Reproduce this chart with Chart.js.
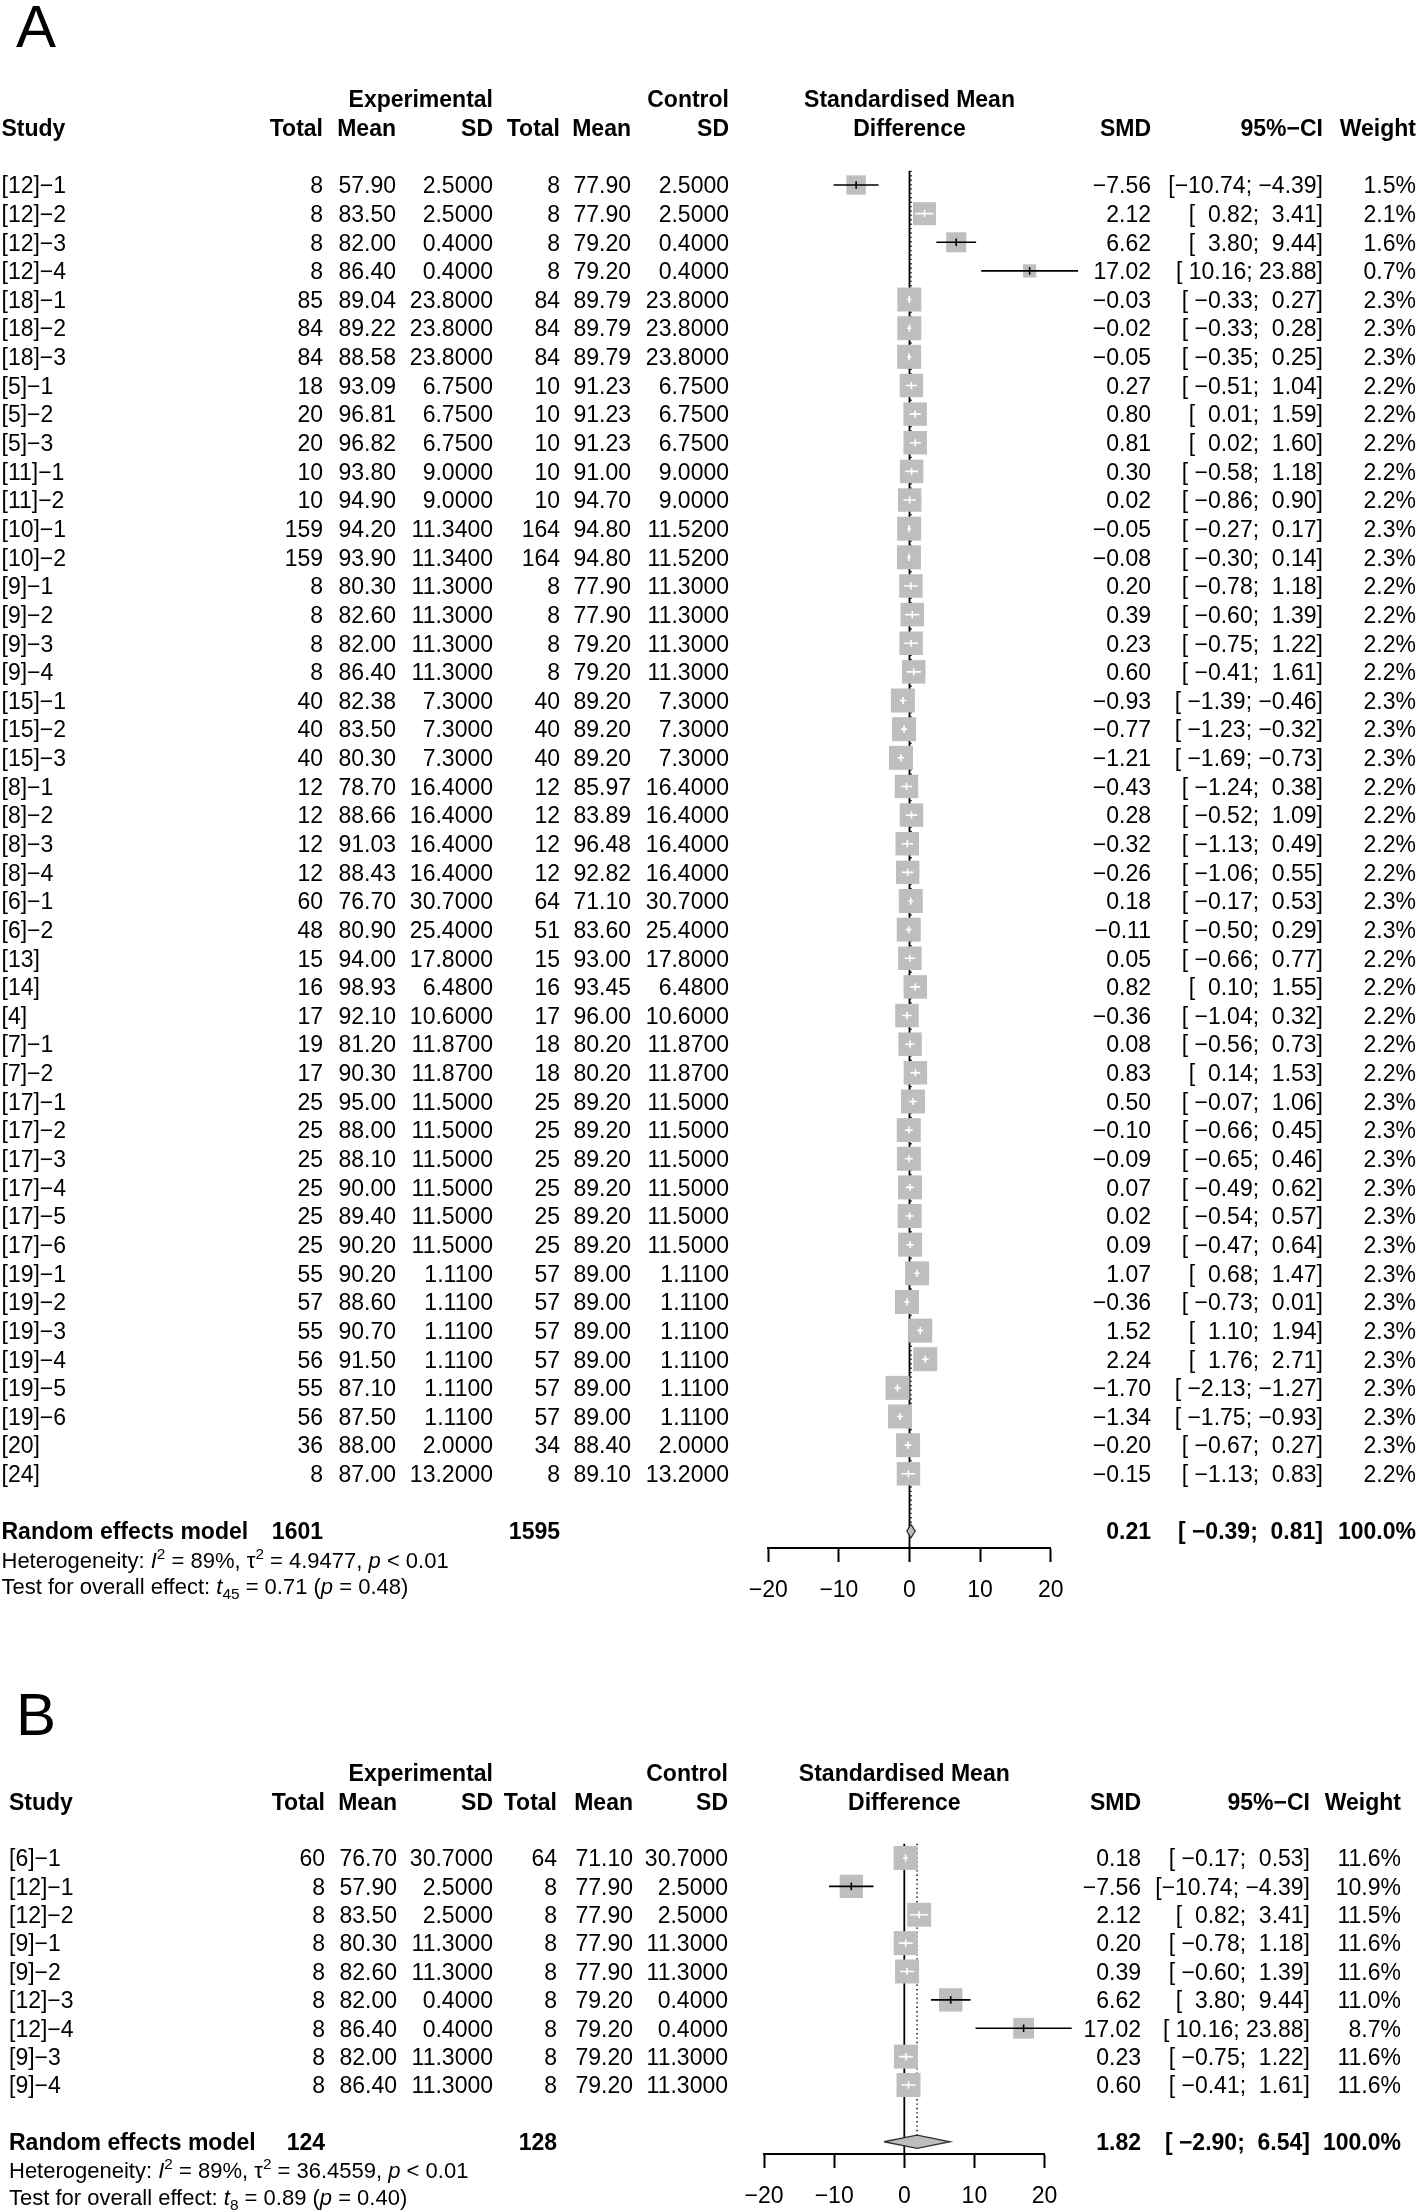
<!DOCTYPE html>
<html><head><meta charset="utf-8">
<script src="https://cdn.jsdelivr.net/npm/chart.js@4.4.0/dist/chart.umd.min.js"></script>
<style>
html,body{margin:0;padding:0;background:#fff;width:1418px;height:2210px;overflow:hidden;}
canvas{position:absolute;left:0;top:0;}
</style></head><body>
<canvas id="cA" width="1418" height="2210"></canvas>
<canvas id="cB" width="1418" height="2210"></canvas>
<script>
// ---------------- Panel A data ----------------
const studiesA = ['[12]-1','[12]-2','[12]-3','[12]-4','[18]-1','[18]-2','[18]-3','[5]-1','[5]-2','[5]-3','[11]-1','[11]-2','[10]-1','[10]-2','[9]-1','[9]-2','[9]-3','[9]-4','[15]-1','[15]-2','[15]-3','[8]-1','[8]-2','[8]-3','[8]-4','[6]-1','[6]-2','[13]','[14]','[4]','[7]-1','[7]-2','[17]-1','[17]-2','[17]-3','[17]-4','[17]-5','[17]-6','[19]-1','[19]-2','[19]-3','[19]-4','[19]-5','[19]-6','[20]','[24]'];
const nExpA = [8,8,8,8,85,84,84,18,20,20,10,10,159,159,8,8,8,8,40,40,40,12,12,12,12,60,48,15,16,17,19,17,25,25,25,25,25,25,55,57,55,56,55,56,36,8];
const meanExpA = [57.90,83.50,82.00,86.40,89.04,89.22,88.58,93.09,96.81,96.82,93.80,94.90,94.20,93.90,80.30,82.60,82.00,86.40,82.38,83.50,80.30,78.70,88.66,91.03,88.43,76.70,80.90,94.00,98.93,92.10,81.20,90.30,95.00,88.00,88.10,90.00,89.40,90.20,90.20,88.60,90.70,91.50,87.10,87.50,88.00,87.00];
const sdExpA = [2.5,2.5,0.4,0.4,23.8,23.8,23.8,6.75,6.75,6.75,9,9,11.34,11.34,11.3,11.3,11.3,11.3,7.3,7.3,7.3,16.4,16.4,16.4,16.4,30.7,25.4,17.8,6.48,10.6,11.87,11.87,11.5,11.5,11.5,11.5,11.5,11.5,1.11,1.11,1.11,1.11,1.11,1.11,2.0,13.2];
const nCtrlA = [8,8,8,8,84,84,84,10,10,10,10,10,164,164,8,8,8,8,40,40,40,12,12,12,12,64,51,15,16,17,18,18,25,25,25,25,25,25,57,57,57,57,57,57,34,8];
const meanCtrlA = [77.90,77.90,79.20,79.20,89.79,89.79,89.79,91.23,91.23,91.23,91.00,94.70,94.80,94.80,77.90,77.90,79.20,79.20,89.20,89.20,89.20,85.97,83.89,96.48,92.82,71.10,83.60,93.00,93.45,96.00,80.20,80.20,89.20,89.20,89.20,89.20,89.20,89.20,89.00,89.00,89.00,89.00,89.00,89.00,88.40,89.10];
const sdCtrlA = [2.5,2.5,0.4,0.4,23.8,23.8,23.8,6.75,6.75,6.75,9,9,11.52,11.52,11.3,11.3,11.3,11.3,7.3,7.3,7.3,16.4,16.4,16.4,16.4,30.7,25.4,17.8,6.48,10.6,11.87,11.87,11.5,11.5,11.5,11.5,11.5,11.5,1.11,1.11,1.11,1.11,1.11,1.11,2.0,13.2];
const smdA = [-7.56,2.12,6.62,17.02,-0.03,-0.02,-0.05,0.27,0.80,0.81,0.30,0.02,-0.05,-0.08,0.20,0.39,0.23,0.60,-0.93,-0.77,-1.21,-0.43,0.28,-0.32,-0.26,0.18,-0.11,0.05,0.82,-0.36,0.08,0.83,0.50,-0.10,-0.09,0.07,0.02,0.09,1.07,-0.36,1.52,2.24,-1.70,-1.34,-0.20,-0.15];
const lowerA = [-10.74,0.82,3.80,10.16,-0.33,-0.33,-0.35,-0.51,0.01,0.02,-0.58,-0.86,-0.27,-0.30,-0.78,-0.60,-0.75,-0.41,-1.39,-1.23,-1.69,-1.24,-0.52,-1.13,-1.06,-0.17,-0.50,-0.66,0.10,-1.04,-0.56,0.14,-0.07,-0.66,-0.65,-0.49,-0.54,-0.47,0.68,-0.73,1.10,1.76,-2.13,-1.75,-0.67,-1.13];
const upperA = [-4.39,3.41,9.44,23.88,0.27,0.28,0.25,1.04,1.59,1.60,1.18,0.90,0.17,0.14,1.18,1.39,1.22,1.61,-0.46,-0.32,-0.73,0.38,1.09,0.49,0.55,0.53,0.29,0.77,1.55,0.32,0.73,1.53,1.06,0.45,0.46,0.62,0.57,0.64,1.47,0.01,1.94,2.71,-1.27,-0.93,0.27,0.83];
const weightA = [1.5,2.1,1.6,0.7,2.3,2.3,2.3,2.2,2.2,2.2,2.2,2.2,2.3,2.3,2.2,2.2,2.2,2.2,2.3,2.3,2.3,2.2,2.2,2.2,2.2,2.3,2.3,2.2,2.2,2.2,2.2,2.2,2.3,2.3,2.3,2.3,2.3,2.3,2.3,2.3,2.3,2.3,2.3,2.3,2.3,2.2];
const pooledA = [0.21, -0.39, 0.81];   // SMD, lower, upper
const totalsA = [1601, 1595];
const hetA = ['89%', '4.9477', '< 0.01'];
const testA = ['45', '0.71', '0.48'];

// ---------------- Panel B data ----------------
const studiesB = ['[6]-1','[12]-1','[12]-2','[9]-1','[9]-2','[12]-3','[12]-4','[9]-3','[9]-4'];
const nExpB = [60,8,8,8,8,8,8,8,8];
const meanExpB = [76.70,57.90,83.50,80.30,82.60,82.00,86.40,82.00,86.40];
const sdExpB = [30.7,2.5,2.5,11.3,11.3,0.4,0.4,11.3,11.3];
const nCtrlB = [64,8,8,8,8,8,8,8,8];
const meanCtrlB = [71.10,77.90,77.90,77.90,77.90,79.20,79.20,79.20,79.20];
const sdCtrlB = [30.7,2.5,2.5,11.3,11.3,0.4,0.4,11.3,11.3];
const smdB = [0.18,-7.56,2.12,0.20,0.39,6.62,17.02,0.23,0.60];
const lowerB = [-0.17,-10.74,0.82,-0.78,-0.60,3.80,10.16,-0.75,-0.41];
const upperB = [0.53,-4.39,3.41,1.18,1.39,9.44,23.88,1.22,1.61];
const weightB = [11.6,10.9,11.5,11.6,11.6,11.0,8.7,11.6,11.6];
const pooledB = [1.82, -2.90, 6.54];
const totalsB = [124, 128];
const hetB = ['89%', '36.4559', '< 0.01'];
const testB = ['8', '0.89', '0.40'];

const xTicks = [-20, -10, 0, 10, 20];

// ---------------- helpers ----------------
const FONT = '"Liberation Sans", Arial, Helvetica, sans-serif';
const fs = 23, fsHet = 22;
const minus = s => String(s).replace(/-/g, '\u2212');
function padL(s, n) { while (s.length < n) s = ' ' + s; return s; }

function makePanel(canvasId, D, L) {
  const n = D.studies.length;
  const reRow = n + 1;
  const axisRow = (L.axisPx - L.row0) / L.rowH;
  const tickLen = 14, tickPad = 15;
  const axisH = tickLen + 2 * tickPad + fs * 1.2;
  const wMax = Math.max(...D.w);
  const sideMax = 24;
  const diamondH = 6.7 / L.rowH;

  // CI strings with R-style padding
  const loStr = D.lo.concat([D.pooled[1]]).map(v => v.toFixed(2));
  const hiStr = D.hi.concat([D.pooled[2]]).map(v => v.toFixed(2));
  const loW = Math.max(...loStr.map(s => s.length)), hiW = Math.max(...hiStr.map(s => s.length));
  const ciStr = loStr.map((s, i) => minus('[' + padL(s, loW) + '; ' + padL(hiStr[i], hiW) + ']'));

  const squares = [], sqR = [], ciBlack = [], ciWhite = [], tkBlack = [], tkWhite = [];
  for (let i = 0; i < n; i++) {
    const side = sideMax * Math.sqrt(D.w[i] / wMax);
    squares.push({x: D.smd[i], y: i});
    sqR.push(side / Math.SQRT2);
    const halfUnits = side / 2 / L.ppu;
    const inside = D.lo[i] >= D.smd[i] - halfUnits && D.hi[i] <= D.smd[i] + halfUnits;
    const seg = inside ? ciWhite : ciBlack;
    seg.push({x: D.lo[i], y: i}, {x: D.hi[i], y: i}, {x: D.hi[i], y: null});
    (inside ? tkWhite : tkBlack).push({x: D.smd[i], y: i});
  }
  const [est, plo, phi] = D.pooled;

  const textPlugin = {
    id: 'forestText',
    afterDraw(chart) {
      const ctx = chart.ctx, ys = chart.scales.y;
      const C = L.cols;
      const yc = r => ys.getPixelForValue(r);
      const put = (t, x, ycen, align, bold, size) => {
        size = size || fs;
        ctx.font = (bold ? 'bold ' : '') + size + 'px ' + FONT;
        ctx.textAlign = align;
        ctx.textBaseline = 'alphabetic';
        ctx.fillText(minus(t), x, ycen + 0.36 * size);
      };
      const runs = (list, x, ycen, size) => {
        let cx = x;
        ctx.textAlign = 'left'; ctx.textBaseline = 'alphabetic';
        for (const r of list) {
          const sz = (r.sup || r.sub) ? size * 0.7 : size;
          ctx.font = (r.it ? 'italic ' : '') + sz + 'px ' + FONT;
          const dy = r.sup ? -size * 0.42 : (r.sub ? size * 0.22 : 0);
          ctx.fillText(r.t, cx, ycen + 0.36 * size + dy);
          cx += ctx.measureText(r.t).width;
        }
      };
      ctx.save();
      ctx.fillStyle = '#000';
      // panel letter
      ctx.font = '60px ' + FONT; ctx.textAlign = 'left'; ctx.textBaseline = 'alphabetic';
      ctx.fillText(L.letter, L.letterX, L.letterY);
      const mid = (chart.chartArea.left + chart.chartArea.right) / 2;
      // headers
      put('Experimental', C.sd1, yc(-3), 'right', true);
      put('Control', C.sd2, yc(-3), 'right', true);
      put('Standardised Mean', mid, yc(-3), 'center', true);
      put('Study', C.study, yc(-2), 'left', true);
      put('Total', C.n1, yc(-2), 'right', true);
      put('Mean', C.m1, yc(-2), 'right', true);
      put('SD', C.sd1, yc(-2), 'right', true);
      put('Total', C.n2, yc(-2), 'right', true);
      put('Mean', C.m2, yc(-2), 'right', true);
      put('SD', C.sd2, yc(-2), 'right', true);
      put('Difference', mid, yc(-2), 'center', true);
      put('SMD', C.smd, yc(-2), 'right', true);
      put('95%-CI', C.ci, yc(-2), 'right', true);
      put('Weight', C.w, yc(-2), 'right', true);
      // study rows
      for (let i = 0; i < n; i++) {
        const y = yc(i);
        put(D.studies[i], C.study, y, 'left');
        put(String(D.nE[i]), C.n1, y, 'right');
        put(D.mE[i].toFixed(2), C.m1, y, 'right');
        put(D.sE[i].toFixed(4), C.sd1, y, 'right');
        put(String(D.nC[i]), C.n2, y, 'right');
        put(D.mC[i].toFixed(2), C.m2, y, 'right');
        put(D.sC[i].toFixed(4), C.sd2, y, 'right');
        put(D.smd[i].toFixed(2), C.smd, y, 'right');
        put(ciStr[i], C.ci, y, 'right');
        put(D.w[i].toFixed(1) + '%', C.w, y, 'right');
      }
      // pooled row
      const yr = yc(reRow);
      put('Random effects model', C.study, yr, 'left', true);
      put(String(D.totals[0]), C.n1, yr, 'right', true);
      put(String(D.totals[1]), C.n2, yr, 'right', true);
      put(est.toFixed(2), C.smd, yr, 'right', true);
      put(ciStr[n], C.ci, yr, 'right', true);
      put('100.0%', C.w, yr, 'right', true);
      // heterogeneity & test
      runs([{t: 'Heterogeneity: '}, {t: 'I', it: 1}, {t: '2', sup: 1}, {t: ' = ' + D.het[0] + ', '},
            {t: '\u03C4'}, {t: '2', sup: 1}, {t: ' = ' + D.het[1] + ', '}, {t: 'p', it: 1}, {t: ' ' + D.het[2]}],
           C.study, yr + 28.8, fsHet);
      runs([{t: 'Test for overall effect: '}, {t: 't', it: 1}, {t: D.test[0], sub: 1}, {t: ' = ' + D.test[1] + ' ('},
            {t: 'p', it: 1}, {t: ' = ' + D.test[2] + ')'}],
           C.study, yr + 55, fsHet);
      ctx.restore();
    }
  };

  const lineBase = {type: 'line', showLine: true, pointRadius: 0, tension: 0, spanGaps: false, clip: false, fill: false};
  new Chart(document.getElementById(canvasId), {
    type: 'line',
    data: {
      datasets: [
        Object.assign({}, lineBase, {label: 'zero', data: [{x: 0, y: -0.5}, {x: 0, y: axisRow}], borderColor: '#000', borderWidth: 1.8, order: 9}),
        Object.assign({}, lineBase, {label: 'pooled', data: [{x: est, y: -0.5}, {x: est, y: reRow - diamondH}], borderColor: '#000', borderWidth: 1.4, borderDash: [1.4, 3], order: 8}),
        {type: 'line', label: 'squares', data: squares, showLine: false, pointStyle: 'rect', pointRadius: sqR,
         pointBackgroundColor: '#bebebe', pointBorderWidth: 0, pointBorderColor: 'rgba(0,0,0,0)', clip: false, order: 6},
        Object.assign({}, lineBase, {label: 'ciBlack', data: ciBlack, borderColor: '#000', borderWidth: 1.6, order: 4}),
        Object.assign({}, lineBase, {label: 'ciWhite', data: ciWhite, borderColor: '#fff', borderWidth: 1.6, order: 4}),
        {type: 'line', label: 'tickBlack', data: tkBlack, showLine: false, pointStyle: 'line', pointRotation: 90, pointRadius: 3.8,
         pointBorderColor: '#000', pointBorderWidth: 1.6, clip: false, order: 2},
        {type: 'line', label: 'tickWhite', data: tkWhite, showLine: false, pointStyle: 'line', pointRotation: 90, pointRadius: 3.6,
         pointBorderColor: '#fff', pointBorderWidth: 1.6, clip: false, order: 2},
        Object.assign({}, lineBase, {label: 'diamond', data: [{x: plo, y: reRow}, {x: est, y: reRow - diamondH}, {x: phi, y: reRow}, {x: est, y: reRow + diamondH}, {x: plo, y: reRow}],
          borderColor: '#333', borderWidth: 1.3, backgroundColor: '#bdbdbd', fill: 'shape', order: 1})
      ]
    },
    options: {
      responsive: false, animation: false, devicePixelRatio: 1,
      layout: {padding: {left: L.x0px - 20 * L.ppu, right: 1418 - (L.x0px + 20 * L.ppu), top: L.row0 - 0.5 * L.rowH, bottom: 2210 - L.axisPx - axisH}},
      plugins: {legend: {display: false}, tooltip: {enabled: false}},
      events: [],
      scales: {
        x: {type: 'linear', position: 'bottom', min: xTicks[0], max: xTicks[xTicks.length - 1],
            afterBuildTicks: s => { s.ticks = xTicks.map(v => ({value: v})); },
            ticks: {font: {family: FONT, size: fs}, color: '#000', padding: tickPad, maxRotation: 0, autoSkip: false,
                    callback: v => minus(String(v))},
            grid: {drawOnChartArea: false, drawTicks: true, tickLength: tickLen, tickWidth: 2, tickColor: '#000'},
            border: {display: true, color: '#000', width: 2}},
        y: {type: 'linear', display: false, reverse: true, min: -0.5, max: axisRow}
      }
    },
    plugins: [textPlugin]
  });
}

makePanel('cA',
  {studies: studiesA, nE: nExpA, mE: meanExpA, sE: sdExpA, nC: nCtrlA, mC: meanCtrlA, sC: sdCtrlA,
   smd: smdA, lo: lowerA, hi: upperA, w: weightA, pooled: pooledA, totals: totalsA, het: hetA, test: testA},
  {row0: 185, rowH: 28.64, axisPx: 1548, x0px: 909.5, ppu: 7.06, letter: 'A', letterX: 16, letterY: 47,
   cols: {study: 1.5, n1: 323, m1: 396, sd1: 493, n2: 560, m2: 631, sd2: 729, smd: 1151, ci: 1323, w: 1416}});

makePanel('cB',
  {studies: studiesB, nE: nExpB, mE: meanExpB, sE: sdExpB, nC: nCtrlB, mC: meanCtrlB, sC: sdCtrlB,
   smd: smdB, lo: lowerB, hi: upperB, w: weightB, pooled: pooledB, totals: totalsB, het: hetB, test: testB},
  {row0: 1858, rowH: 28.375, axisPx: 2154, x0px: 904.3, ppu: 7.01, letter: 'B', letterX: 16, letterY: 1735,
   cols: {study: 9, n1: 325, m1: 397, sd1: 493, n2: 557, m2: 633, sd2: 728, smd: 1141, ci: 1310, w: 1401}});
</script></body></html>
